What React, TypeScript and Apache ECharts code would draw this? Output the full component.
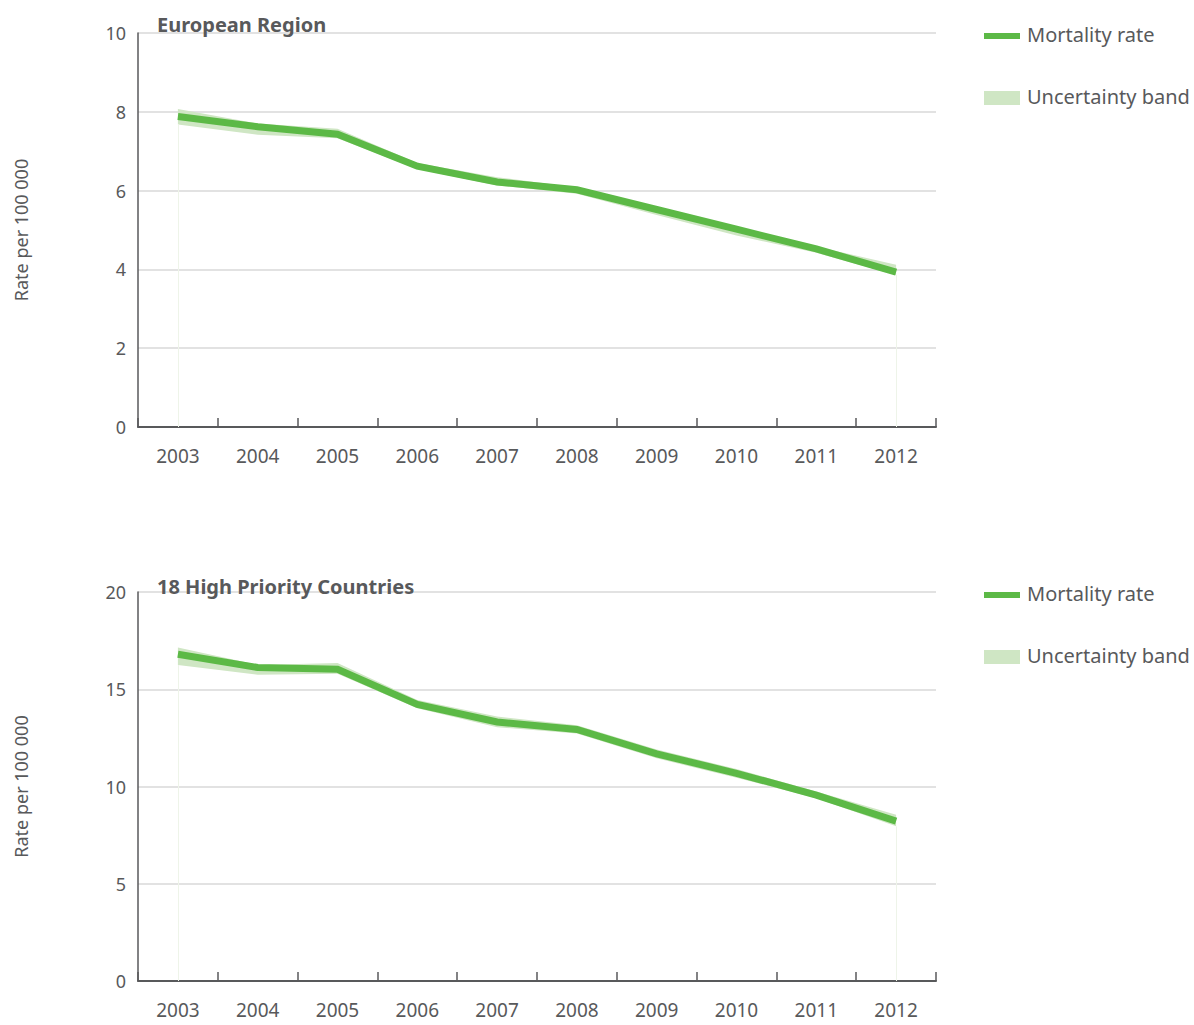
import React, { useEffect, useRef } from "react";
import * as echarts from "echarts";

const years = ["2003", "2004", "2005", "2006", "2007", "2008", "2009", "2010", "2011", "2012"];

const euMortality = [7.88, 7.62, 7.43, 6.62, 6.22, 6.02, 5.52, 5.02, 4.52, 3.93];
const euLower = [7.68, 7.42, 7.33, 6.55, 6.13, 5.92, 5.38, 4.86, 4.42, 3.86];
const euUpper = [8.07, 7.7, 7.57, 6.7, 6.34, 6.08, 5.58, 5.08, 4.58, 4.12];

const hpcMortality = [16.8, 16.12, 16.03, 14.22, 13.32, 12.93, 11.68, 10.68, 9.56, 8.22];
const hpcLower = [16.25, 15.75, 15.8, 14.02, 13.05, 12.72, 11.45, 10.45, 9.4, 7.95];
const hpcUpper = [17.15, 16.25, 16.35, 14.45, 13.6, 13.15, 11.9, 10.9, 9.74, 8.55];

const titles = ["European Region", "18 High Priority Countries"];
const yMax = [10, 20];
const yInterval = [2, 5];
const legendNames = ["Mortality rate", "Uncertainty band"];

const LINE = "#5cb946";
const BAND = "#cfe6c4";
const TEXT = "#58595b";
const FONT = "Noto Sans";

export default function App() {
  const ref = useRef<HTMLDivElement>(null);
  useEffect(() => {
    if (!ref.current) return;
    const chart = echarts.init(ref.current, undefined, { renderer: "svg" });
    const grids = [
      { left: 138, top: 33, width: 798, height: 394 },
      { left: 138, top: 592, width: 798, height: 389 },
    ];
    const datasets = [
      { m: euMortality, lo: euLower, hi: euUpper },
      { m: hpcMortality, lo: hpcLower, hi: hpcUpper },
    ];
    const series: any[] = [];
    datasets.forEach((d, i) => {
      series.push({
        type: "line",
        name: "lower" + i,
        xAxisIndex: i,
        yAxisIndex: i,
        stack: "band" + i,
        data: d.lo,
        symbol: "none",
        lineStyle: { width: 0, opacity: 0 },
        silent: true,
        markLine: {
          silent: true,
          symbol: "none",
          label: { show: false },
          lineStyle: { color: "#eef4e9", width: 1, type: "solid" },
          data: [
            [{ coord: [years[0], 0] }, { coord: [years[0], d.lo[0]] }],
            [{ coord: [years[years.length - 1], 0] }, { coord: [years[years.length - 1], d.lo[d.lo.length - 1]] }],
          ],
        },
      });
      series.push({
        type: "line",
        name: legendNames[1] + i,
        xAxisIndex: i,
        yAxisIndex: i,
        stack: "band" + i,
        data: d.hi.map((v, k) => +(v - d.lo[k]).toFixed(3)),
        symbol: "none",
        lineStyle: { width: 0, opacity: 0 },
        areaStyle: { color: BAND, opacity: 1 },
        silent: true,
      });
      series.push({
        type: "line",
        name: legendNames[0] + i,
        xAxisIndex: i,
        yAxisIndex: i,
        data: d.m,
        symbol: "none",
        lineStyle: { width: 7, color: LINE, cap: "butt", join: "miter" },
        z: 5,
      });
    });

    const graphic: any[] = [];
    const legendTops = [36, 595];
    legendTops.forEach((t) => {
      graphic.push({ type: "rect", left: 984, top: t - 3, shape: { width: 36, height: 6 }, style: { fill: LINE } });
      graphic.push({
        type: "text",
        left: 1027,
        top: t - 12,
        style: { text: legendNames[0], fill: TEXT, font: `20px "${FONT}"` },
      });
      graphic.push({ type: "rect", left: 984, top: t + 55, shape: { width: 36, height: 14 }, style: { fill: BAND } });
      graphic.push({
        type: "text",
        left: 1027,
        top: t + 50,
        style: { text: legendNames[1], fill: TEXT, font: `20px "${FONT}"` },
      });
    });

    chart.setOption({
      animation: false,
      backgroundColor: "#ffffff",
      textStyle: { fontFamily: FONT },
      title: titles.map((t, i) => ({
        text: t,
        left: 152,
        top: i === 0 ? 9 : 571,
        textStyle: { fontFamily: FONT, fontSize: 20, fontWeight: "bold", color: TEXT },
      })),
      grid: grids,
      xAxis: grids.map((_, i) => ({
        type: "category",
        gridIndex: i,
        data: years,
        boundaryGap: true,
        axisLine: { lineStyle: { color: TEXT, width: 2 } },
        axisTick: { show: true, inside: true, length: 9, lineStyle: { color: TEXT, width: 1.5 } },
        axisLabel: { color: TEXT, fontSize: 19, margin: 19, fontFamily: FONT },
        splitLine: { show: false },
      })),
      yAxis: grids.map((_, i) => ({
        type: "value",
        gridIndex: i,
        min: 0,
        max: yMax[i],
        interval: yInterval[i],
        name: "Rate per 100 000",
        nameLocation: "middle",
        nameGap: 108,
        nameTextStyle: { color: TEXT, fontSize: 18, fontFamily: FONT },
        axisLine: { show: true, lineStyle: { color: TEXT, width: 1.5 } },
        axisTick: { show: false },
        axisLabel: { color: TEXT, fontSize: 18, margin: 12, fontFamily: FONT },
        splitLine: { show: true, lineStyle: { color: "#d9d9d9", width: 1.5 } },
      })),
      series,
      graphic,
    });
    return () => chart.dispose();
  }, []);
  return (
    <div
      ref={ref}
      style={{ position: "fixed", left: 0, top: 0, width: 1194, height: 1025, background: "#fff" }}
    />
  );
}
